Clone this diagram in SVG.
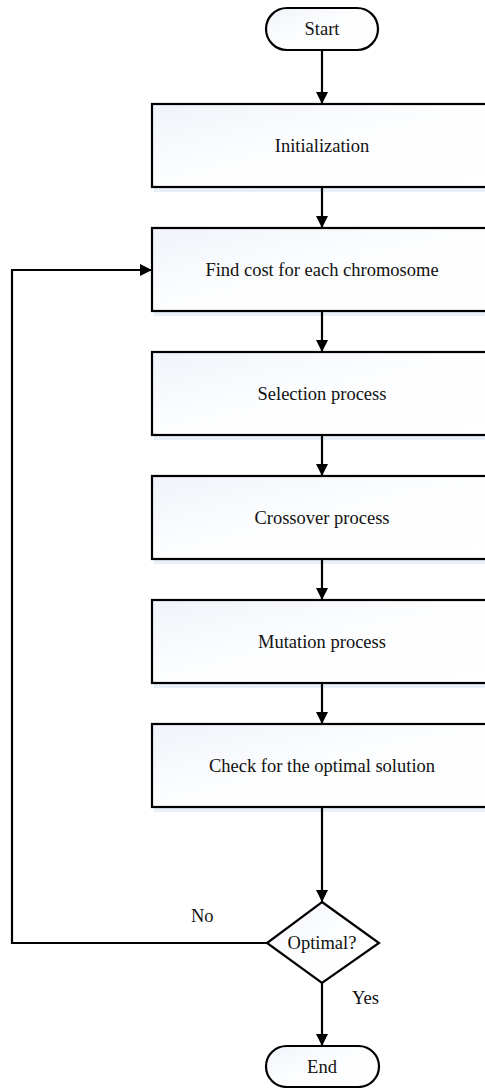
<svg xmlns="http://www.w3.org/2000/svg" width="485" height="1088" viewBox="0 0 485 1088">
<style>
.node{fill:url(#g);stroke:#000;stroke-width:2.2}
.sh{fill:#e9eff8;stroke:none}
.t{font-family:"Liberation Serif","Times New Roman",serif;font-size:18.5px;fill:#111;text-anchor:middle}
.lbl{font-family:"Liberation Serif","Times New Roman",serif;font-size:18.5px;fill:#111}
.c{fill:none;stroke:#000;stroke-width:2.2}
</style>
<defs>
<linearGradient id="g" x1="0" y1="0" x2="1" y2="1">
<stop offset="0" stop-color="#f0f3fa"/>
<stop offset="0.45" stop-color="#fcfdfe"/>
<stop offset="1" stop-color="#ffffff"/>
</linearGradient>
<marker id="a" markerWidth="13" markerHeight="13" viewBox="0 0 13 13" refX="12" refY="6.5" orient="auto" markerUnits="userSpaceOnUse">
<path d="M0,0.5 L12,6.5 L0,12.5 Z" fill="#000"/>
</marker>
</defs>
<rect width="485" height="1088" fill="#fff"/>
<g id="start">
<rect class="node" x="266" y="8" width="112" height="42" rx="21"/>
<text class="t" x="322" y="35">Start</text>
</g>
<g id="init">
<rect class="sh" x="154" y="188" width="340" height="4"/>
<rect class="node" x="152" y="104" width="340" height="83"/>
<text class="t" x="322" y="152">Initialization</text>
</g>
<g id="cost">
<rect class="sh" x="154" y="312" width="340" height="4"/>
<rect class="node" x="152" y="228" width="340" height="83"/>
<text class="t" x="322" y="276">Find cost for each chromosome</text>
</g>
<g id="selection">
<rect class="sh" x="154" y="436" width="340" height="4"/>
<rect class="node" x="152" y="352" width="340" height="83"/>
<text class="t" x="322" y="400">Selection process</text>
</g>
<g id="crossover">
<rect class="sh" x="154" y="560" width="340" height="4"/>
<rect class="node" x="152" y="476" width="340" height="83"/>
<text class="t" x="322" y="524">Crossover process</text>
</g>
<g id="mutation">
<rect class="sh" x="154" y="684" width="340" height="4"/>
<rect class="node" x="152" y="600" width="340" height="83"/>
<text class="t" x="322" y="648">Mutation process</text>
</g>
<g id="check">
<rect class="sh" x="154" y="808" width="340" height="4"/>
<rect class="node" x="152" y="724" width="340" height="83"/>
<text class="t" x="322" y="772">Check for the optimal solution</text>
</g>
<g id="optimal">
<polygon class="node" points="322,902 379,943 322,983 267,943"/>
<text class="t" x="322" y="949">Optimal?</text>
</g>
<g id="end">
<rect class="node" x="266" y="1046" width="113" height="41" rx="20.5"/>
<text class="t" x="322" y="1073">End</text>
</g>
<g id="connectors">
<line class="c" x1="322" y1="50" x2="322" y2="104" marker-end="url(#a)"/>
<line class="c" x1="322" y1="187" x2="322" y2="228" marker-end="url(#a)"/>
<line class="c" x1="322" y1="311" x2="322" y2="352" marker-end="url(#a)"/>
<line class="c" x1="322" y1="435" x2="322" y2="476" marker-end="url(#a)"/>
<line class="c" x1="322" y1="559" x2="322" y2="600" marker-end="url(#a)"/>
<line class="c" x1="322" y1="683" x2="322" y2="724" marker-end="url(#a)"/>
<line class="c" x1="322" y1="807" x2="322" y2="902" marker-end="url(#a)"/>
<line class="c" x1="322" y1="983" x2="322" y2="1046" marker-end="url(#a)"/>
<polyline class="c" points="267,943 12,943 12,270 152,270" marker-end="url(#a)"/>
<text class="lbl" x="191" y="922">No</text>
<text class="lbl" x="352" y="1004">Yes</text>
</g>
</svg>
